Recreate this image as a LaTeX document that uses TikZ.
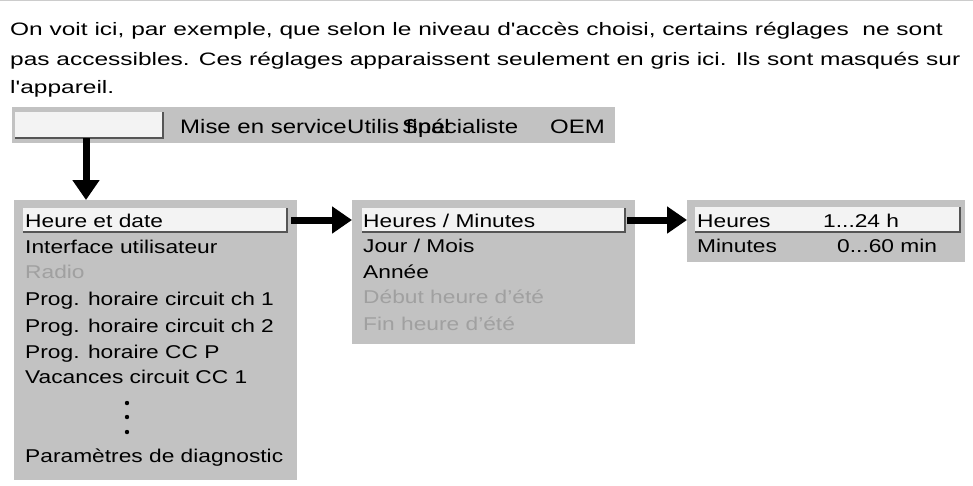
\documentclass[tikz,border=0pt]{standalone}
\usepackage{fontspec}
\setmainfont[FakeStretch=1.23]{Liberation Sans}
\newfontfamily\parafont[FakeStretch=1.36]{Liberation Sans}
\usetikzlibrary{arrows.meta,positioning}
\definecolor{panelgray}{HTML}{C2C2C2}
\definecolor{hidegray}{HTML}{A0A0A0}
\definecolor{selwhite}{HTML}{F3F3F3}
\definecolor{edgegray}{HTML}{555555}
\tikzset{
  panel/.style={fill=panelgray,anchor=north west,inner sep=0pt,outer sep=0pt},
  selbar/.style={fill=selwhite,anchor=north west,inner sep=0pt,outer sep=0pt},
  bevel/.style={draw=edgegray,line width=1.2pt},
  item/.style={anchor=base west,inner sep=0pt,font=\fontsize{18.5}{20}\selectfont},
  level/.style={item,font=\fontsize{19.5}{21}\selectfont},
  hidden/.style={item,text=hidegray},
  para/.style={anchor=base west,inner sep=0pt,font=\parafont\fontsize{18}{20}\selectfont},
  bigarrow/.style={line width=7pt,-{Triangle[length=20pt,width=26pt]}}
}
\begin{document}
\begin{tikzpicture}[x=1pt,y=-1pt]
\useasboundingbox (0,0) rectangle (973,485);
\draw[gray!40,line width=0.6pt] (0,0.5) -- (973,0.5);
%the text above
    \node[para] (p1) at (10,35) {On voit ici, par exemple, que selon le niveau d'accès choisi, certains réglages \ ne sont};
    \node[para] (p2) at (10,65) {pas accessibles. Ces réglages apparaissent seulement en gris ici. Ils sont masqués sur};
    \node[para] (p3) at (10,93) {l'appareil.};
%the access levels
    \node[panel,minimum width=603pt,minimum height=36pt] (levels) at (12,107) {};
    \node[selbar,minimum width=148pt,minimum height=26pt] (selT) at (15,112) {};
    \draw[bevel] (selT.south west) -- (selT.south east) -- (selT.north east);
    \node[level] (lv1) at (180,133) {Mise en service};
    \node[level] (lv2) at (347,133) {Utilis final};
    \node[level] (lv3) at (402,133) {Spécialiste};
    \node[level] (lv4) at (550,133) {OEM};
%the main menu
    \node[panel,minimum width=283pt,minimum height=280pt] (menuA) at (14,200) {};
    \node[selbar,minimum width=264pt,minimum height=24pt] (selA) at (23,208) {};
    \draw[bevel] (selA.south west) -- (selA.south east) -- (selA.north east);
    \node[item] (a1) at (25,227) {Heure et date};
    \node[item] (a2) at (25,253) {Interface utilisateur};
    \node[hidden] (a3) at (25,278) {Radio};
    \node[item] (a4) at (25,305) {Prog. horaire circuit ch 1};
    \node[item] (a5) at (25,332) {Prog. horaire circuit ch 2};
    \node[item] (a6) at (25,358) {Prog. horaire CC P};
    \node[item] (a7) at (25,383) {Vacances circuit CC 1};
    \node[item] (a8) at (25,462) {Paramètres de diagnostic};
    \foreach \y in {403,417,432}
       \fill (127,\y) circle (2.2pt);
%the date menu
    \node[panel,minimum width=283pt,minimum height=144pt] (menuB) at (352,200) {};
    \node[selbar,minimum width=263pt,minimum height=24pt] (selB) at (362,208) {};
    \draw[bevel] (selB.south west) -- (selB.south east) -- (selB.north east);
    \node[item] (b1) at (363,227) {Heures / Minutes};
    \node[item] (b2) at (363,252) {Jour / Mois};
    \node[item] (b3) at (363,278) {Année};
    \node[hidden] (b4) at (363,303) {Début heure d'été};
    \node[hidden] (b5) at (363,330) {Fin heure d'été};
%the time menu
    \node[panel,minimum width=278pt,minimum height=62pt] (menuC) at (687,200) {};
    \node[selbar,minimum width=265pt,minimum height=25pt] (selC) at (695,207) {};
    \draw[bevel] (selC.south west) -- (selC.south east) -- (selC.north east);
    \node[item] (c1) at (697,227) {Heures};
    \node[item] (c2) at (823,227) {1...24 h};
    \node[item] (c3) at (697,252) {Minutes};
    \node[item] (c4) at (837,252) {0...60 min};
%the arrows
    \begin{scope}[every path/.style={bigarrow}]
       \draw ([xshift=-3pt]selT.south) -- ([xshift=-3pt]selT.south |- menuA.north);
       \draw[shorten <=4pt] (selA.east) -- (selA.east -| menuB.west);
       \draw[shorten <=2pt] (selB.east) -- (selB.east -| menuC.west);
    \end{scope}
\end{tikzpicture}
\end{document}
